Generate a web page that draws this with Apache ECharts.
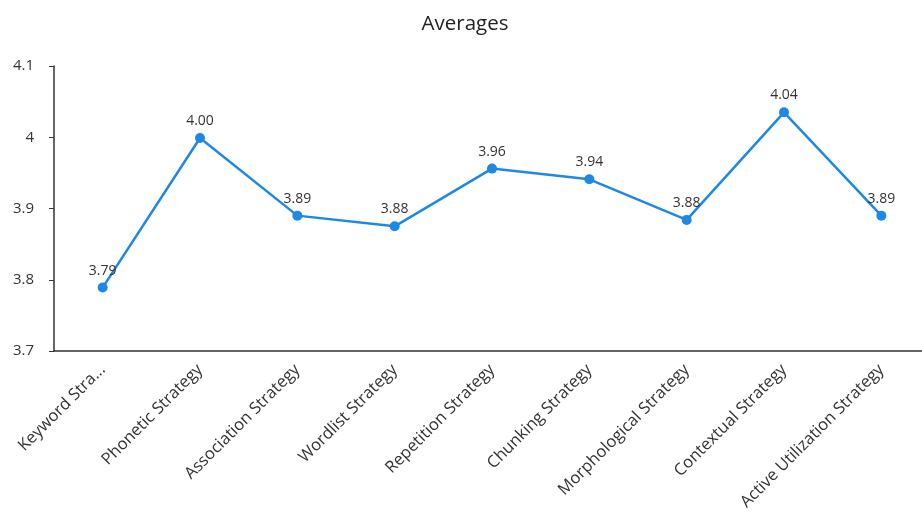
<!DOCTYPE html>
<html>
<head>
<meta charset="utf-8">
<script src="https://cdn.jsdelivr.net/npm/echarts@6/dist/echarts.min.js"></script>
<style>
  html, body { margin: 0; padding: 0; background: #fff; overflow: hidden; }
  #graph { width: 930px; height: 516px; }
</style>
</head>
<body>
<div id="graph"></div>
<script>
// category names as shown on the x axis
const strategies = [
    'Keyword Stra...',
    'Phonetic Strategy',
    'Association Strategy',
    'Wordlist Strategy',
    'Repetition Strategy',
    'Chunking Strategy',
    'Morphological Strategy',
    'Contextual Strategy',
    'Active Utilization Strategy'
];
// average scores
const averages = [3.789, 3.999, 3.890, 3.875, 3.956, 3.941, 3.884, 4.035, 3.890];
const yTicks = [3.7, 4.1, 0.1]; // min, max, interval

let myChart = echarts.init(document.getElementById('graph'));
const fontName = '"Open Sans", "Noto Sans", sans-serif';

let option = {
    animation: false,
    title: {
        text: 'Averages',
        left: 'center',
        top: 9,
        textStyle: { fontFamily: fontName, fontSize: 20.5, fontWeight: 'normal', color: '#222' }
    },
    grid: { left: 54, right: 0, top: 66, height: 285 },
    xAxis: {
        type: 'category',
        data: strategies,
        axisLine: { lineStyle: { color: '#333', width: 1.5 } },
        axisTick: { alignWithLabel: true, lineStyle: { color: '#333' } },
        axisLabel: { rotate: 45, color: '#333', fontFamily: fontName, fontSize: 16.5, margin: 16 }
    },
    yAxis: {
        type: 'value',
        min: yTicks[0],
        max: yTicks[1],
        interval: yTicks[2],
        splitLine: { show: false },
        axisLine: { show: true, lineStyle: { color: '#333', width: 1.5 } },
        axisTick: { show: true, lineStyle: { color: '#333' } },
        axisLabel: { color: '#333', fontFamily: fontName, fontSize: 15, margin: 20 }
    },
    series: [{
        type: 'line',
        data: averages,
        symbol: 'circle',
        symbolSize: 10,
        itemStyle: { color: '#1E88E5' },
        lineStyle: { color: '#1E88E5', width: 2.5 },
        label: {
            show: true,
            position: 'top',
            color: '#333',
            fontFamily: fontName,
            fontSize: 14,
            formatter: (p) => p.value.toFixed(2)
        }
    }]
};
myChart.setOption(option);
</script>
</body>
</html>
